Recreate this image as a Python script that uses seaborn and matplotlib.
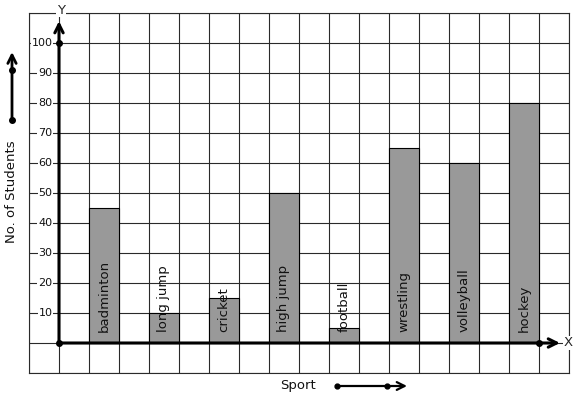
import numpy as np
import pandas as pd
import matplotlib
matplotlib.use("Agg")
import matplotlib.pyplot as plt
import seaborn as sns
from matplotlib.lines import Line2D

sports = ["badminton", "long jump", "cricket", "high jump", "football",
          "wrestling", "volleyball", "hockey"]
students = [45, 10, 15, 50, 5, 65, 60, 80]
y_ticks = [10, 20, 30, 40, 50, 60, 70, 80, 90, 100]

sns.set_theme(style="white")
plt.rcParams["font.family"] = ["DejaVu Sans"]

W, H = 577, 399
fig = plt.figure(figsize=(W / 100, H / 100), dpi=100)
ax = fig.add_axes([29 / W, 26 / H, 540 / W, 360 / H])

df = pd.DataFrame({"sport": sports, "students": students})
df["pos"] = [1.5 + 2 * i for i in range(len(sports))]

sns.barplot(data=df, x="pos", y="students", native_scale=True, width=0.5,
            color="#999999", saturation=1, edgecolor="black", linewidth=0.8,
            ax=ax, zorder=3)

ax.set_xlim(-1, 17)
ax.set_ylim(-10, 110)
ax.set_xticks(np.arange(-1, 18))
ax.set_yticks(np.arange(-10, 111, 10))
ax.grid(True, color="#2a2a2a", linewidth=0.8, zorder=0)
ax.set_axisbelow(True)
ax.tick_params(length=0, labelbottom=False, labelleft=False)
ax.set_xlabel("")
ax.set_ylabel("")
for s in ax.spines.values():
    s.set_color("#2a2a2a")
    s.set_linewidth(0.8)

# bar labels
for p, name in zip(df["pos"], df["sport"]):
    ax.text(p, 3.7, name, rotation=90, ha="center", va="bottom",
            fontsize=9.5, color="#111111", zorder=5)

# y tick labels over the grid lines
for t in y_ticks:
    ax.text(-0.22, t, str(t), ha="right", va="center", fontsize=8,
            color="#111111", zorder=5,
            bbox=dict(facecolor="white", edgecolor="none", pad=0.6))

# axes with arrows
ax.annotate("", xy=(0, 107.3), xytext=(0, 0),
            arrowprops=dict(arrowstyle="->", lw=2.2, color="black",
                            mutation_scale=15, shrinkA=0, shrinkB=0),
            annotation_clip=False, zorder=6)
ax.annotate("", xy=(16.7, 0), xytext=(0, 0),
            arrowprops=dict(arrowstyle="->", lw=2.2, color="black",
                            mutation_scale=15, shrinkA=0, shrinkB=0),
            annotation_clip=False, zorder=6)
ax.plot([0, 0, 16], [0, 100, 0], "o", color="black", ms=4, zorder=7)

ax.text(0.07, 111, "Y", ha="center", va="center", fontsize=9.5,
        bbox=dict(facecolor="white", edgecolor="none", pad=0.5), clip_on=False, zorder=8)
ax.text(16.97, 0, "X", ha="center", va="center", fontsize=9.5,
        bbox=dict(facecolor="white", edgecolor="none", pad=0.5), clip_on=False, zorder=8)

# outer labels and arrows (figure pixels)
fig.text(12 / W, 207 / H, "No. of Students", rotation=90, ha="center", va="center",
         fontsize=9.5, color="#111111")
fig.text(298 / W, 14 / H, "Sport", ha="center", va="center", fontsize=9.5,
         color="#111111")

ax.annotate("", xy=(12, 347), xytext=(12, 279), xycoords="figure pixels",
            textcoords="figure pixels",
            arrowprops=dict(arrowstyle="->", lw=2, color="black",
                            mutation_scale=15, shrinkA=0, shrinkB=0))
ax.annotate("", xy=(407, 13), xytext=(337, 13), xycoords="figure pixels",
            textcoords="figure pixels",
            arrowprops=dict(arrowstyle="->", lw=1.6, color="black",
                            mutation_scale=14, shrinkA=0, shrinkB=0))
fig.add_artist(Line2D([12 / W, 12 / W], [279 / H, 329 / H], ls="none", marker="o",
                      color="black", ms=4))
fig.add_artist(Line2D([337 / W, 387 / W], [13 / H, 13 / H], ls="none", marker="o",
                      color="black", ms=3.5))

fig.savefig("out.png", dpi=100)
